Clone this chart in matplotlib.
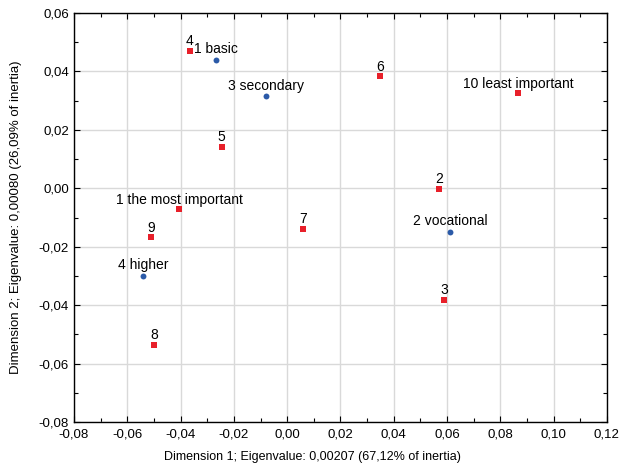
import matplotlib
matplotlib.use("Agg")
import matplotlib.pyplot as plt
from matplotlib.ticker import MultipleLocator, FuncFormatter

plt.rcParams['font.family'] = ['Liberation Sans', 'DejaVu Sans']

# row points (red squares)
row_labels = ['4', '5', '1 the most important', '9', '7', '6',
              '10 least important', '2', '3', '8']
row_x = [-0.0365, -0.0246, -0.0406, -0.0512, 0.0060, 0.0348,
         0.0866, 0.0570, 0.0590, -0.0500]
row_y = [0.0470, 0.0143, -0.0072, -0.0168, -0.0139, 0.0383,
         0.0325, -0.0003, -0.0382, -0.0536]

# column points (blue dots)
col_labels = ['1 basic', '3 secondary', '2 vocational', '4 higher']
col_x = [-0.0267, -0.0078, 0.0612, -0.0541]
col_y = [0.0440, 0.0315, -0.0149, -0.0300]

fig = plt.figure(figsize=(6.19, 4.66), dpi=100)
ax = fig.add_axes([0.1195, 0.0944, 0.861, 0.8776])

ax.scatter(row_x, row_y, marker='s', s=22, color='#e8202a', zorder=3, linewidths=0)
ax.scatter(col_x, col_y, marker='o', s=18, color='#2b5aa8', zorder=3, linewidths=0)

for lab, x, y in zip(row_labels, row_x, row_y):
    ax.annotate(lab, (x, y), xytext=(0, 2), textcoords='offset points',
                ha='center', va='bottom', fontsize=10, color='black')
for lab, x, y in zip(col_labels, col_x, col_y):
    ax.annotate(lab, (x, y), xytext=(0, 2.5), textcoords='offset points',
                ha='center', va='bottom', fontsize=10, color='black')

ax.set_xlim(-0.08, 0.12)
ax.set_ylim(-0.08, 0.06)
ax.xaxis.set_major_locator(MultipleLocator(0.02))
ax.yaxis.set_major_locator(MultipleLocator(0.02))
ax.xaxis.set_minor_locator(MultipleLocator(0.01))
ax.yaxis.set_minor_locator(MultipleLocator(0.01))
fmt = FuncFormatter(lambda v, p: f"{v:.2f}".replace('.', ',').replace('-0,00', '0,00'))
ax.xaxis.set_major_formatter(fmt)
ax.yaxis.set_major_formatter(fmt)

ax.grid(True, which='major', color='#d9d9d9', linewidth=1)
ax.set_axisbelow(True)
ax.tick_params(which='both', direction='in', top=True, right=True,
               labelsize=9.5, colors='black')
ax.tick_params(axis='x', which='major', pad=5)
ax.tick_params(which='major', length=4, width=0.8)
ax.tick_params(which='minor', length=3, width=0.8)
for s in ax.spines.values():
    s.set_linewidth(1.0)
    s.set_color('black')

ax.set_xlabel('Dimension 1; Eigenvalue: 0,00207 (67,12% of inertia)', fontsize=9)
ax.set_ylabel('Dimension 2; Eigenvalue: 0,00080 (26,09% of inertia)', fontsize=9.5, labelpad=12)
ax.xaxis.set_label_coords(0.448, -0.071)

fig.savefig('out.png', dpi=100)
